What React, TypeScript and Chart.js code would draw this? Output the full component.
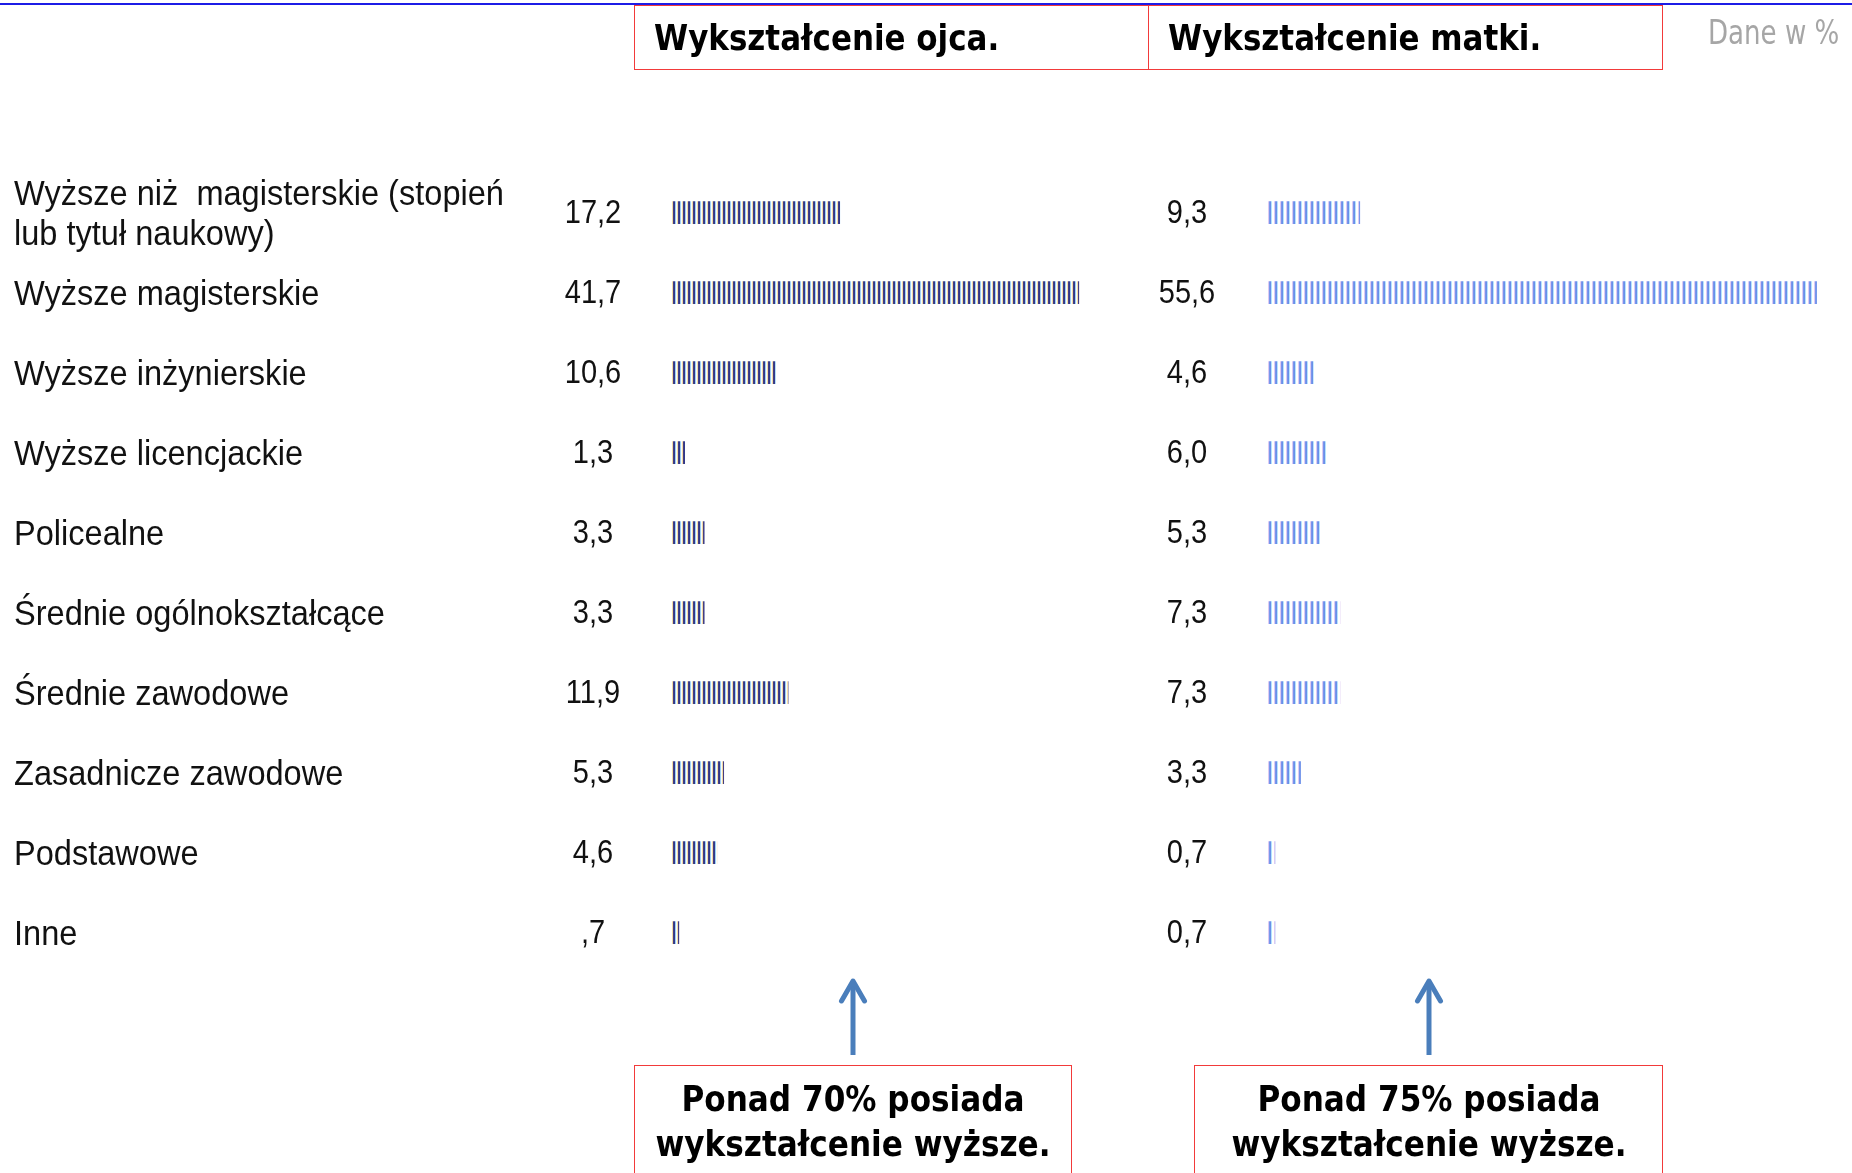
import React, { useEffect, useRef } from "react";
import { Chart, registerables } from "chart.js";

Chart.register(...registerables);

// ---- data ----
const categories: (string | string[])[] = [
  ["Wyższe niż  magisterskie (stopień", "lub tytuł naukowy)"],
  "Wyższe magisterskie",
  "Wyższe inżynierskie",
  "Wyższe licencjackie",
  "Policealne",
  "Średnie ogólnokształcące",
  "Średnie zawodowe",
  "Zasadnicze zawodowe",
  "Podstawowe",
  "Inne",
];
const fatherValues = [17.2, 41.7, 10.6, 1.3, 3.3, 3.3, 11.9, 5.3, 4.6, 0.7];
const motherValues = [9.3, 55.6, 4.6, 6.0, 5.3, 7.3, 7.3, 3.3, 0.7, 0.7];
const fatherValueLabels = ["17,2", "41,7", "10,6", "1,3", "3,3", "3,3", "11,9", "5,3", "4,6", ",7"];
const motherValueLabels = ["9,3", "55,6", "4,6", "6,0", "5,3", "7,3", "7,3", "3,3", "0,7", "0,7"];
const fatherTitle = "Wykształcenie ojca.";
const motherTitle = "Wykształcenie matki.";
const unitNote = "Dane w %";
const fatherNote = ["Ponad 70% posiada", "wykształcenie wyższe."];
const motherNote = ["Ponad 75% posiada", "wykształcenie wyższe."];

// ---- styles ----
const fatherTile = ["#f0dca4", "#463c84", "#2e3a8a", "#9ccff5", "#fbfbfb"];
const motherTile = ["#dccaf2", "#7896ec", "#6a8ee8", "#b4e4fc", "#ffffff", "#ffffff"];
const W = 1852;
const H = 1173;
const PAD_TOP = 172.6;
const PAD_BOTTOM = H - 972.6;

function makePattern(canvas: HTMLCanvasElement, colors: string[]) {
  const tile = document.createElement("canvas");
  tile.width = colors.length;
  tile.height = 1;
  const t = tile.getContext("2d")!;
  colors.forEach((c, i) => {
    t.fillStyle = c;
    t.fillRect(i, 0, 1, 1);
  });
  return canvas.getContext("2d")!.createPattern(tile, "repeat")!;
}

function squeezeText(
  ctx: CanvasRenderingContext2D,
  text: string,
  x: number,
  y: number,
  sx: number,
  align: CanvasTextAlign
) {
  ctx.save();
  ctx.translate(x, y);
  ctx.scale(sx, 1);
  ctx.textAlign = align;
  ctx.fillText(text, 0, 0);
  ctx.restore();
}

function buildChart(
  canvas: HTMLCanvasElement,
  values: number[],
  valueLabels: string[],
  max: number,
  padLeft: number,
  tile: string[],
  valueX: number,
  withCategories: boolean
) {
  const pattern = makePattern(canvas, tile);
  const plugin = {
    id: "rowText",
    beforeDatasetsDraw(chart: any) {
      if ((pattern as any).setTransform) {
        pattern.setTransform(new DOMMatrix([1, 0, 0, 1, chart.chartArea.left, 0]));
      }
    },
    afterDraw(chart: any) {
      const ctx: CanvasRenderingContext2D = chart.ctx;
      const yScale = chart.scales.y;
      ctx.save();
      ctx.fillStyle = "#111111";
      ctx.textBaseline = "middle";
      const labels = chart.data.labels as (string | string[])[];
      labels.forEach((lab, i) => {
        const y = yScale.getPixelForValue(i);
        if (withCategories) {
          ctx.font = '35px "Liberation Sans", Arial, sans-serif';
          const lines = Array.isArray(lab) ? lab : [lab];
          const lh = 40;
          const y0 = y + 2.5 - ((lines.length - 1) * lh) / 2;
          lines.forEach((ln, k) => squeezeText(ctx, ln, 14, y0 + k * lh, 0.93, "left"));
        }
        ctx.font = '33px "Liberation Sans", Arial, sans-serif';
        squeezeText(ctx, valueLabels[i], valueX, y + 1.5, 0.88, "center");
      });
      ctx.restore();
    },
  };
  return new Chart(canvas, {
    type: "bar",
    data: {
      labels: categories,
      datasets: [
        {
          data: values,
          backgroundColor: pattern as any,
          borderWidth: 0,
          barThickness: 22,
        },
      ],
    },
    options: {
      indexAxis: "y",
      responsive: false,
      animation: false,
      devicePixelRatio: 1,
      events: [],
      layout: { padding: { left: padLeft, right: 0, top: PAD_TOP, bottom: PAD_BOTTOM } },
      scales: {
        x: { display: false, min: 0, max },
        y: { display: false },
      },
      plugins: { legend: { display: false }, tooltip: { enabled: false } },
    },
    plugins: [plugin],
  } as any);
}

const boldFont = '"DejaVu Sans", Verdana, sans-serif';

function Arrow({ x }: { x: number }) {
  return (
    <svg
      style={{ position: "absolute", left: x - 20, top: 970, overflow: "visible" }}
      width={40}
      height={90}
    >
      <line x1={20} y1={85} x2={20} y2={13} stroke="#4a7ebb" strokeWidth={5} />
      <polyline
        points="8.5,31 20,11 31.5,31"
        fill="none"
        stroke="#4a7ebb"
        strokeWidth={5}
        strokeLinecap="round"
        strokeLinejoin="round"
      />
    </svg>
  );
}

function NoteBox({ left, width, lines }: { left: number; width: number; lines: string[] }) {
  return (
    <div
      style={{
        position: "absolute",
        left,
        top: 1065,
        width,
        height: 200,
        boxSizing: "border-box",
        border: "1.5px solid #f23a3a",
      }}
    >
      <div
        style={{
          position: "absolute",
          left: "50%",
          top: 10,
          fontFamily: boldFont,
          fontWeight: "bold",
          fontSize: 36,
          lineHeight: "45px",
          textAlign: "center",
          color: "#000",
          transform: "translateX(-50%) scaleX(0.865)",
          transformOrigin: "center",
          whiteSpace: "nowrap",
        }}
      >
        {lines.map((l, i) => (
          <div key={i}>{l}</div>
        ))}
      </div>
    </div>
  );
}

function TitleBox({ left, width, text }: { left: number; width: number; text: string }) {
  return (
    <div
      style={{
        position: "absolute",
        left,
        top: 5,
        width,
        height: 65,
        boxSizing: "border-box",
        border: "1.5px solid #f23a3a",
      }}
    >
      <div
        style={{
          position: "absolute",
          left: 19,
          top: 9,
          fontFamily: boldFont,
          fontWeight: "bold",
          fontSize: 36,
          lineHeight: "45px",
          color: "#000",
          transform: "scaleX(0.86)",
          transformOrigin: "left",
          whiteSpace: "nowrap",
        }}
      >
        {text}
      </div>
    </div>
  );
}

export default function App() {
  const aRef = useRef<HTMLCanvasElement>(null);
  const bRef = useRef<HTMLCanvasElement>(null);

  useEffect(() => {
    const charts: Chart[] = [];
    if (aRef.current) {
      charts.push(buildChart(aRef.current, fatherValues, fatherValueLabels, 49, 672, fatherTile, 593, true));
    }
    if (bRef.current) {
      charts.push(buildChart(bRef.current, motherValues, motherValueLabels, 60, 118, motherTile, 37, false));
    }
    return () => charts.forEach((c) => c.destroy());
  }, []);

  return (
    <div
      style={{
        position: "fixed",
        left: 0,
        top: 0,
        width: W,
        height: H,
        overflow: "hidden",
        background: "#ffffff",
      }}
    >
      <canvas
        ref={aRef}
        width={1150}
        height={H}
        style={{ position: "absolute", left: 0, top: 0, width: 1150, height: H }}
      />
      <canvas
        ref={bRef}
        width={710}
        height={H}
        style={{ position: "absolute", left: 1150, top: 0, width: 710, height: H }}
      />
      <div
        style={{
          position: "absolute",
          left: 0,
          top: 3,
          width: W,
          height: 2,
          background: "#1c1ce6",
        }}
      />
      <TitleBox left={634} width={515} text={fatherTitle} />
      <TitleBox left={1148} width={515} text={motherTitle} />
      <div
        style={{
          position: "absolute",
          left: 1708,
          top: 13,
          fontFamily: boldFont,
          fontSize: 33,
          lineHeight: "40px",
          color: "#a6a6a6",
          transform: "scaleX(0.79)",
          transformOrigin: "left",
          whiteSpace: "nowrap",
        }}
      >
        {unitNote}
      </div>
      <Arrow x={853} />
      <Arrow x={1429} />
      <NoteBox left={634} width={438} lines={fatherNote} />
      <NoteBox left={1194} width={469} lines={motherNote} />
    </div>
  );
}
